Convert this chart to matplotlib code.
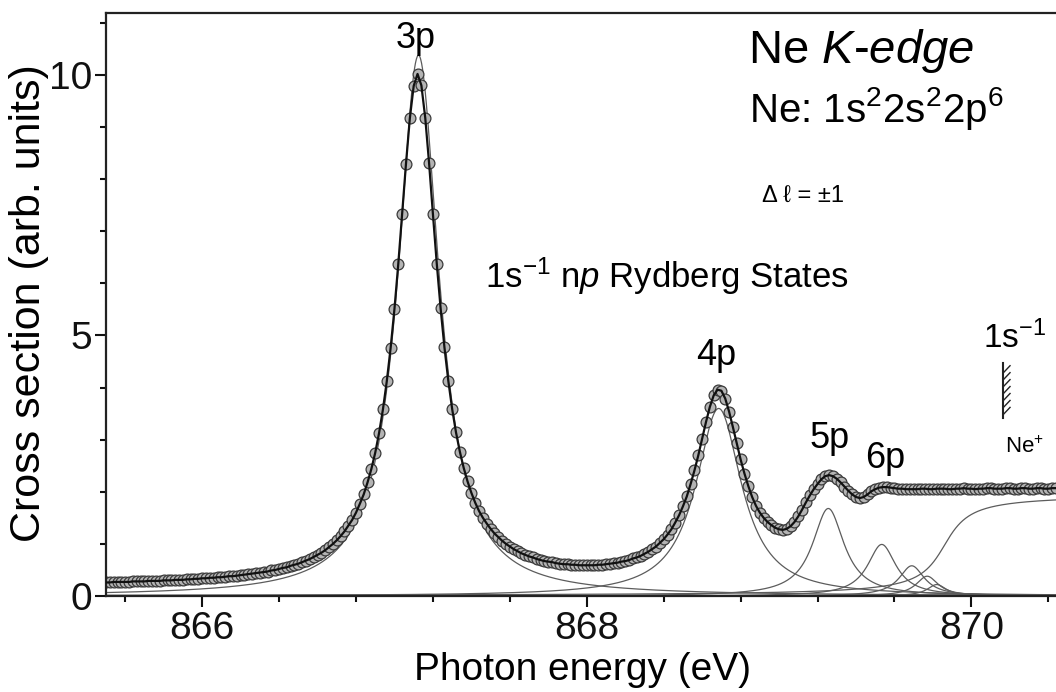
import numpy as np
import matplotlib
matplotlib.use("Agg")
import matplotlib.pyplot as plt
from matplotlib.ticker import MultipleLocator

# ---------------- data ----------------
E_START = 865.50      # eV, first measured point
E_STEP = 0.02         # eV, scan step

cross_section = [
    0.26, 0.26, 0.27, 0.27, 0.27, 0.27, 0.27, 0.28, 0.28, 0.28,   # 865.50
    0.28, 0.29, 0.29, 0.29, 0.29, 0.30, 0.30, 0.30, 0.31, 0.31,   # 865.70
    0.31, 0.32, 0.32, 0.33, 0.33, 0.34, 0.34, 0.35, 0.35, 0.36,   # 865.90
    0.36, 0.37, 0.38, 0.38, 0.39, 0.40, 0.41, 0.42, 0.43, 0.44,   # 866.10
    0.45, 0.46, 0.47, 0.49, 0.50, 0.52, 0.54, 0.55, 0.58, 0.60,   # 866.30
    0.62, 0.65, 0.68, 0.71, 0.75, 0.79, 0.83, 0.88, 0.94, 1.00,   # 866.50
    1.07, 1.15, 1.24, 1.35, 1.46, 1.60, 1.77, 1.95, 2.18, 2.44,   # 866.70
    2.75, 3.13, 3.58, 4.12, 4.76, 5.51, 6.38, 7.33, 8.30, 9.17,   # 866.90
    9.79, 10.02, 9.80, 9.18, 8.31, 7.33, 6.38, 5.52, 4.77, 4.13,  # 867.10
    3.59, 3.14, 2.77, 2.46, 2.20, 1.98, 1.79, 1.63, 1.50, 1.39,   # 867.30
    1.29, 1.20, 1.13, 1.06, 1.00, 0.95, 0.90, 0.86, 0.82, 0.79,   # 867.50
    0.76, 0.74, 0.71, 0.69, 0.67, 0.66, 0.65, 0.63, 0.62, 0.61,   # 867.70
    0.61, 0.60, 0.60, 0.59, 0.59, 0.59, 0.59, 0.59, 0.60, 0.60,   # 867.90
    0.61, 0.62, 0.63, 0.64, 0.66, 0.67, 0.69, 0.72, 0.74, 0.77,   # 868.10
    0.81, 0.85, 0.90, 0.95, 1.02, 1.09, 1.18, 1.28, 1.41, 1.55,   # 868.30
    1.72, 1.91, 2.15, 2.41, 2.70, 3.02, 3.34, 3.63, 3.85, 3.96,   # 868.50
    3.94, 3.79, 3.54, 3.24, 2.93, 2.62, 2.35, 2.11, 1.90, 1.73,   # 868.70
    1.60, 1.50, 1.42, 1.36, 1.31, 1.28, 1.27, 1.29, 1.34, 1.42,   # 868.90
    1.53, 1.66, 1.80, 1.93, 2.05, 2.15, 2.24, 2.30, 2.32, 2.30,   # 869.10
    2.25, 2.18, 2.10, 2.02, 1.95, 1.90, 1.88, 1.90, 1.95, 2.01,   # 869.30
    2.05, 2.08, 2.09, 2.09, 2.08, 2.07, 2.06, 2.06, 2.05, 2.05,   # 869.50
    2.05, 2.05, 2.06, 2.06, 2.05, 2.05, 2.06, 2.06, 2.06, 2.05,   # 869.70
    2.05, 2.06, 2.06, 2.07, 2.06, 2.06, 2.05, 2.06, 2.06, 2.07,   # 869.90
    2.07, 2.06, 2.06, 2.06, 2.07, 2.07, 2.06, 2.06, 2.07, 2.07,   # 870.10
    2.06, 2.06, 2.07, 2.07, 2.06, 2.06, 2.07, 2.07,               # 870.30
]
energy = E_START + E_STEP * np.arange(len(cross_section))

# fitted Rydberg components (Lorentzian): position, amplitude, half width
comp_labels = ["3p", "4p", "5p", "6p", "7p", "8p", "9p"]
comp_pos = [867.125, 868.686, 869.256, 869.534, 869.690, 869.770, 869.820]
comp_amp = [10.38, 3.60, 1.68, 0.99, 0.58, 0.38, 0.22]
comp_hwhm = [0.130, 0.145, 0.100, 0.090, 0.080, 0.070, 0.060]
# ionisation continuum (arctan step)
edge_pos, edge_height, edge_width = 869.86, 1.95, 0.10

# peak labels shown on the chart
peak_text = ["3p", "4p", "5p", "6p"]

# ---------------- style ----------------
plt.rcParams["font.family"] = ["Liberation Sans", "DejaVu Sans"]
plt.rcParams["mathtext.fontset"] = "custom"
plt.rcParams["mathtext.rm"] = "Liberation Sans"
plt.rcParams["mathtext.it"] = "Liberation Sans:italic"
plt.rcParams["mathtext.bf"] = "Liberation Sans:bold"

W, H = 1056, 692
fig = plt.figure(figsize=(W / 100, H / 100), dpi=100)
ax = fig.add_axes([106 / W, 1 - 596 / H, 1 - 106 / W, (596 - 13) / H])

XLIM = (865.50, 870.44)
YLIM = (0.0, 11.19)

# components
xf = np.linspace(XLIM[0], XLIM[1], 2000)
for pos, amp, w in zip(comp_pos, comp_amp, comp_hwhm):
    ax.plot(xf, amp / (1 + ((xf - pos) / w) ** 2), color="#5c5c5c", lw=0.9, zorder=1)
ax.plot(xf, edge_height * (0.5 + np.arctan((xf - edge_pos) / edge_width) / np.pi),
        color="#5c5c5c", lw=0.9, zorder=1)

# measured points + total curve
ax.plot(energy, cross_section, "o", ms=7.8, mfc="#b4b4b4", mec="#3a3a3a",
        mew=0.9, zorder=2)
ax.plot(energy, cross_section, "-", color="#111111", lw=1.6, zorder=3)

ax.set_xlim(*XLIM)
ax.set_ylim(*YLIM)
ax.set_xticks([866, 868, 870])
ax.set_yticks([0, 5, 10])
ax.xaxis.set_minor_locator(MultipleLocator(0.4))
ax.yaxis.set_minor_locator(MultipleLocator(1))
ax.tick_params(which="major", direction="out", length=7.9, width=1.5,
               labelsize=28, pad=3, colors="#111111")
ax.tick_params(which="minor", direction="out", length=4.3, width=1.5, colors="#111111")
ax.tick_params(axis="y", which="major", pad=2)
for s in ["left", "bottom", "top"]:
    ax.spines[s].set_linewidth(1.6)
    ax.spines[s].set_color("#222222")
ax.spines["right"].set_visible(False)

# axis titles
fig.text(582 / W, 1 - 680 / H, "Photon energy (eV)", ha="center", va="baseline",
         fontsize=28)
fig.text(29 / W, 1 - 303 / H, "Cross section (arb. units)", ha="center",
         va="center", rotation=90, fontsize=31)

# peak labels
label_xy = {"3p": (867.112, 10.52), "4p": (868.672, 4.43),
            "5p": (869.260, 2.84), "6p": (869.551, 2.46)}
for t in peak_text:
    x, y = label_xy[t]
    ax.text(x, y, t, ha="center", va="baseline", fontsize=26, zorder=5)

# annotations
ax.text(868.838, 10.23, r"Ne $\mathit{K}$-$\mathit{edge}$", ha="left",
        va="baseline", fontsize=34)
ax.text(868.844, 9.10, r"Ne: 1s$^2$2s$^2$2p$^6$", ha="left", va="baseline",
        fontsize=29)
ax.text(868.911, 7.56, "\u0394 \u2113 = \u00b11", ha="left", va="baseline",
        fontsize=17)
ax.text(867.471, 5.91, r"1s$^{-1}$ n$\mathit{p}$ Rydberg States", ha="left",
        va="baseline", fontsize=25)
ax.text(870.06, 4.76, r"1s$^{-1}$", ha="left", va="baseline", fontsize=24)
ax.text(870.175, 2.745, r"Ne$^{+}$", ha="left", va="baseline", fontsize=16)

# ionisation threshold marker (hatched bar)
thr_x = 870.165
ax.plot([thr_x, thr_x], [3.42, 4.47], color="#222222", lw=1.5, zorder=5,
        clip_on=False)
for yk in np.linspace(3.62, 4.42, 7):
    ax.plot([thr_x, thr_x + 0.036], [yk - 0.14, yk], color="#222222", lw=1.0,
            zorder=5, clip_on=False)

fig.savefig("out.png", dpi=100)
